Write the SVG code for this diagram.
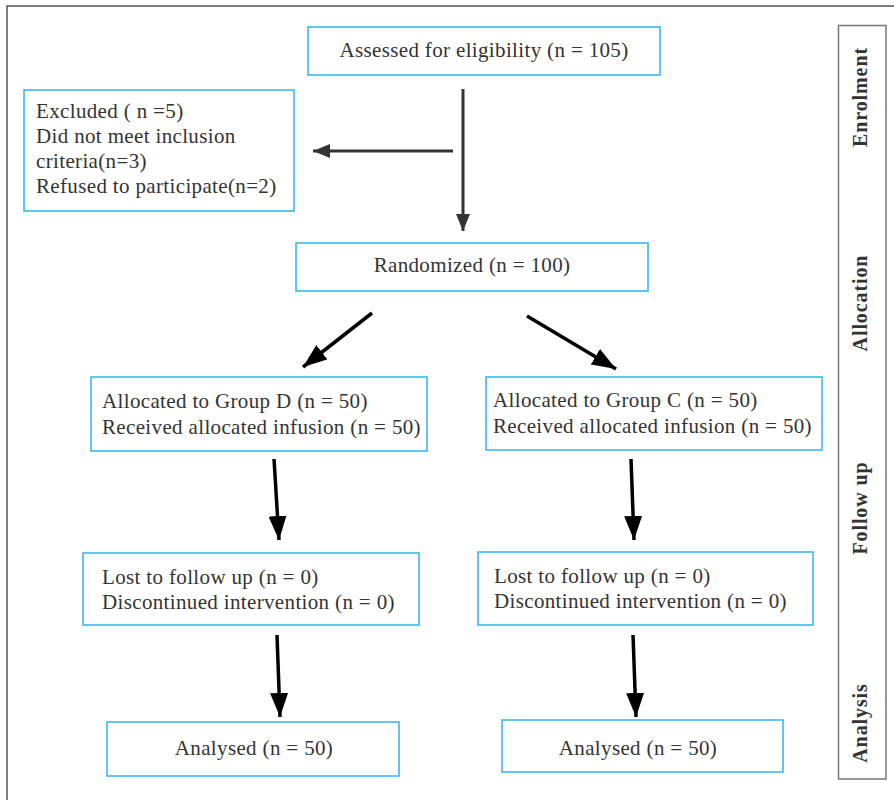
<svg xmlns="http://www.w3.org/2000/svg" width="894" height="800" viewBox="0 0 894 800">
<defs>
<style>
.box{fill:#fff;stroke:#3cb8ec;stroke-width:1.6}
.t{font-family:"Liberation Serif","Times New Roman",serif;font-size:21px;letter-spacing:0.35px;fill:#333}
.c{text-anchor:middle}
.side{font-family:"Liberation Serif","Times New Roman",serif;font-size:20px;font-weight:bold;letter-spacing:0.9px;fill:#333;text-anchor:middle}
.g{stroke:#333;stroke-width:3;fill:none}
.k{stroke:#000;stroke-width:3.5;fill:none}
</style>
<marker id="ahg" markerUnits="userSpaceOnUse" viewBox="0 0 17 14" markerWidth="17" markerHeight="14" refX="17" refY="7" orient="auto">
<path d="M0,0 L17,7 L0,14 z" fill="#333"/>
</marker>
<marker id="ahk" markerUnits="userSpaceOnUse" viewBox="0 0 24 18" markerWidth="24" markerHeight="18" refX="24" refY="9" orient="auto">
<path d="M0,0 L24,9 L0,18 z" fill="#000"/>
</marker>
</defs>
<rect width="894" height="800" fill="#fff"/>
<path d="M7,810 L7,6 L900,6" fill="none" stroke="#555" stroke-width="1.5"/>
<g id="sidebar">
<rect x="838.5" y="25.5" width="47.5" height="753.5" fill="#fff" stroke="#777" stroke-width="1.5"/>
<text class="side" transform="translate(867,97) rotate(-90)">Enrolment</text>
<text class="side" transform="translate(867,303) rotate(-90)">Allocation</text>
<text class="side" transform="translate(867,508) rotate(-90)">Follow up</text>
<text class="side" transform="translate(867,723) rotate(-90)">Analysis</text>
</g>
<g id="assessed">
<rect class="box" x="308" y="27" width="352" height="48"/>
<text class="t c" x="484" y="57">Assessed for eligibility (n = 105)</text>
</g>
<g id="excluded">
<rect class="box" x="24" y="90" width="270" height="121"/>
<text class="t" x="36" y="118">Excluded ( n =5)</text>
<text class="t" x="36" y="143">Did not meet inclusion</text>
<text class="t" x="36" y="168">criteria(n=3)</text>
<text class="t" x="36" y="193">Refused to participate(n=2)</text>
</g>
<g id="randomized">
<rect class="box" x="296" y="243" width="352" height="48"/>
<text class="t c" x="472" y="272">Randomized (n = 100)</text>
</g>
<g id="groupD">
<rect class="box" x="91" y="377" width="336" height="74"/>
<text class="t" x="102" y="408">Allocated to Group D (n = 50)</text>
<text class="t" x="102" y="434">Received allocated infusion (n = 50)</text>
</g>
<g id="groupC">
<rect class="box" x="486" y="377" width="336" height="73"/>
<text class="t" x="493" y="407">Allocated to Group C (n = 50)</text>
<text class="t" x="493" y="433">Received allocated infusion (n = 50)</text>
</g>
<g id="lostD">
<rect class="box" x="83" y="553" width="336" height="72"/>
<text class="t" x="102" y="584">Lost to follow up (n = 0)</text>
<text class="t" x="102" y="609">Discontinued intervention (n = 0)</text>
</g>
<g id="lostC">
<rect class="box" x="478" y="552" width="335" height="73"/>
<text class="t" x="494" y="583">Lost to follow up (n = 0)</text>
<text class="t" x="494" y="608">Discontinued intervention (n = 0)</text>
</g>
<g id="analysedD">
<rect class="box" x="107" y="722" width="292" height="54"/>
<text class="t c" x="254" y="755">Analysed (n = 50)</text>
</g>
<g id="analysedC">
<rect class="box" x="502" y="720" width="281" height="52"/>
<text class="t c" x="638" y="755">Analysed (n = 50)</text>
</g>
<g id="connectors">
<line class="g" x1="463" y1="89" x2="463" y2="231" marker-end="url(#ahg)"/>
<line class="g" x1="453" y1="151" x2="313" y2="151" marker-end="url(#ahg)"/>
<line class="k" x1="372" y1="313" x2="303" y2="367" marker-end="url(#ahk)"/>
<line class="k" x1="527" y1="316" x2="616" y2="369" marker-end="url(#ahk)"/>
<line class="k" x1="274" y1="459" x2="279" y2="540" marker-end="url(#ahk)"/>
<line class="k" x1="631" y1="459" x2="634" y2="540" marker-end="url(#ahk)"/>
<line class="k" x1="277" y1="635" x2="280" y2="717" marker-end="url(#ahk)"/>
<line class="k" x1="633" y1="635" x2="636" y2="717" marker-end="url(#ahk)"/>
</g>
</svg>
